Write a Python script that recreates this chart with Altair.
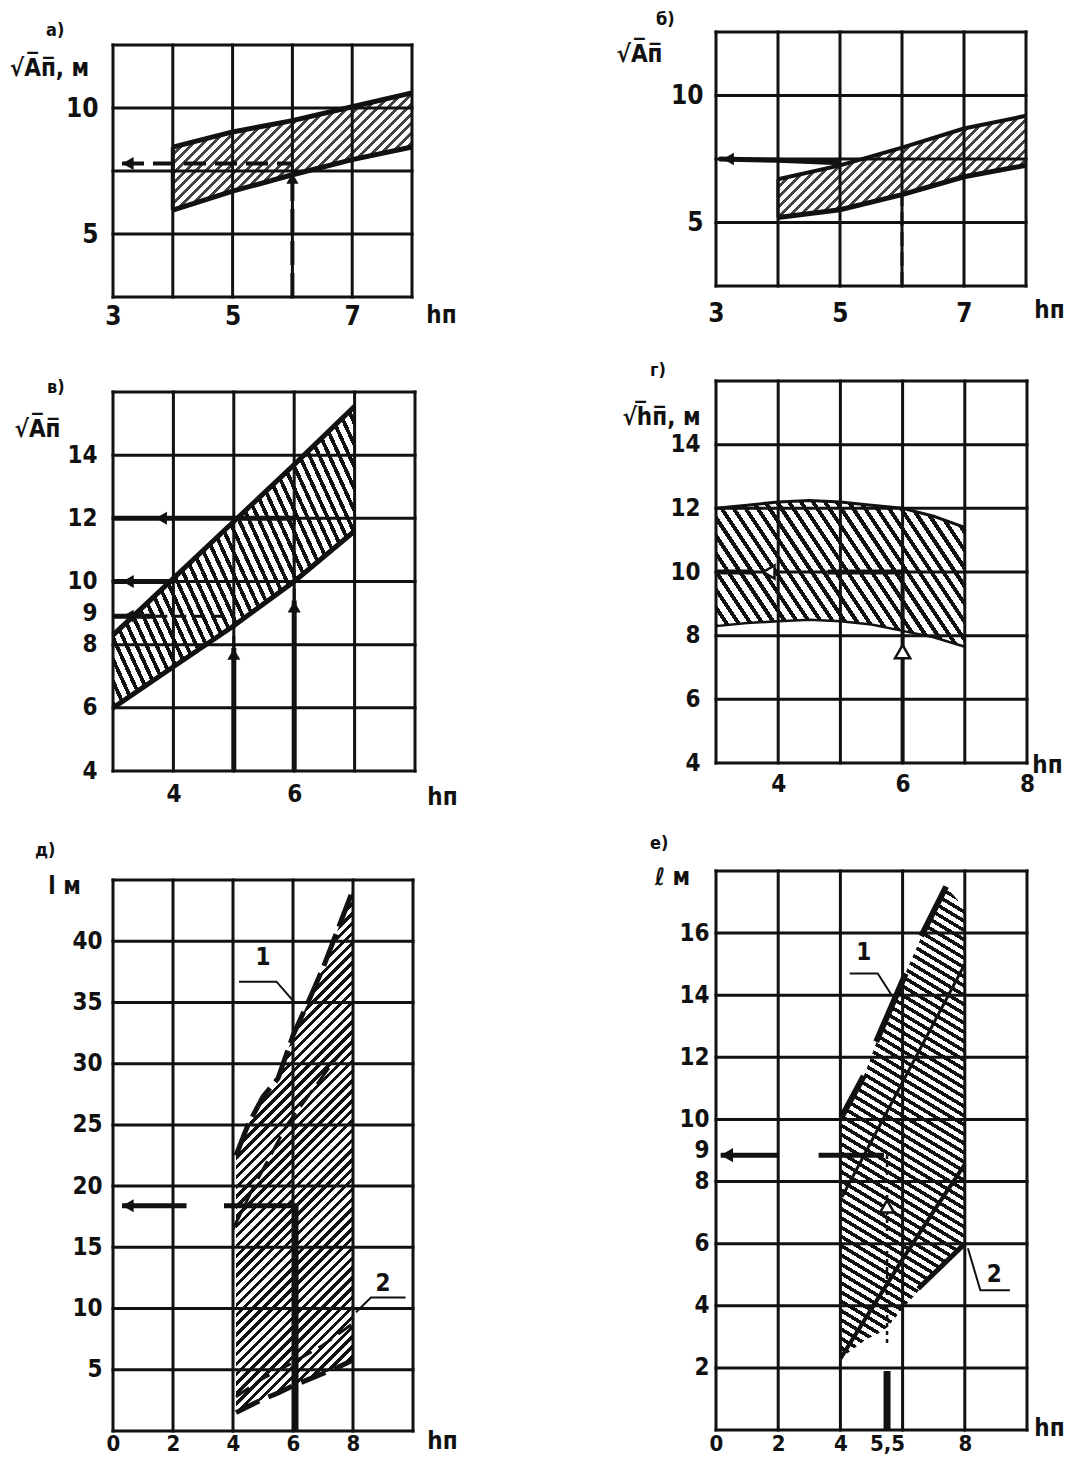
import math
import altair as alt
import pandas as pd

INK = "#111111"
FONT = "Liberation Sans Narrow, DejaVu Sans Condensed, DejaVu Sans, sans-serif"

# ---------------- panel а) ----------------
a_x = [4, 5, 6, 7, 8]
a_lo = [5.95, 6.7, 7.35, 7.95, 8.45]
a_hi = [8.45, 9.05, 9.5, 10.05, 10.6]
a_gx = [3, 4, 5, 6, 7, 8]
a_gy = [2.5, 5, 7.5, 10, 12.5]
a_xticks = [3, 5, 7]
a_yticks = [5, 10]
a_harrow_x = [3.15, 6.0]
a_harrow_y = [7.8, 7.8]
a_varrow_x = [6, 6]
a_varrow_y = [2.5, 7.2]

# ---------------- panel б) ----------------
b_x = [4, 5, 6, 7, 8]
b_lo = [5.2, 5.5, 6.1, 6.8, 7.25]
b_hi = [6.7, 7.25, 7.95, 8.7, 9.2]
b_gx = [3, 4, 5, 6, 7, 8]
b_gy = [2.5, 5, 7.5, 10, 12.5]
b_xticks = [3, 5, 7]
b_yticks = [5, 10]
b_harrow_x = [3.05, 4, 5]
b_harrow_y = [7.5, 7.45, 7.35]
b_varrow_x = [6, 6]
b_varrow_y = [2.5, 6.1]

# ---------------- panel в) ----------------
c_x = [3, 4, 5, 6, 7]
c_lo = [6.0, 7.3, 8.6, 10.0, 11.6]
c_hi = [8.3, 10.1, 11.9, 13.7, 15.55]
c_gx = [3, 4, 5, 6, 7, 8]
c_gy = [4, 6, 8, 10, 12, 14, 16]
c_xticks = [4, 6]
c_yticks = [4, 6, 8, 9, 10, 12, 14]

# ---------------- panel г) ----------------
d_x = [3, 3.5, 4, 4.5, 5, 5.5, 6, 6.5, 7]
d_hi = [12.0, 12.1, 12.2, 12.25, 12.2, 12.1, 12.0, 11.75, 11.4]
d_lo = [8.3, 8.4, 8.45, 8.5, 8.45, 8.35, 8.15, 7.95, 7.65]
d_gx = [3, 4, 5, 6, 7, 8]
d_gy = [4, 6, 8, 10, 12, 14, 16]
d_xticks = [4, 6, 8]
d_yticks = [4, 6, 8, 10, 12, 14]

# ---------------- panel д) ----------------
e_x = [4.1, 4.5, 5, 5.5, 6, 6.5, 7, 7.5, 8]
e_hi = [22.5, 25.0, 27.3, 28.8, 32.3, 35.0, 37.8, 41.0, 44.2]
e_lo = [1.5, 2.0, 2.6, 3.1, 3.7, 4.2, 4.7, 5.2, 5.8]
e_mid_x = [4.0, 4.7, 5.8, 7.3, 8.0]
e_mid_y = [16.5, 20, 25, 30, 32]
e_l2_x = [4.1, 5.0, 6.0, 7.0, 8.0]
e_l2_y = [2.8, 4.3, 5.6, 7.0, 8.8]
e_gx = [0, 2, 4, 6, 8, 10]
e_gy = [0, 5, 10, 15, 20, 25, 30, 35, 40, 45]
e_xticks = [0, 2, 4, 6, 8]
e_yticks = [5, 10, 15, 20, 25, 30, 35, 40]
e_call_x = [5.0, 9.0]
e_call_y = [38.6, 12.0]
e_call_t = ["1", "2"]
e_lead1_x = [4.2, 5.45, 6.05]
e_lead1_y = [36.7, 36.7, 35.0]
e_lead2_x = [9.75, 8.6, 8.1]
e_lead2_y = [10.9, 10.9, 9.7]

# ---------------- panel е) ----------------
f_x = [4.0, 4.8, 5.2, 5.5, 6.0, 6.7, 7.4, 8.0]
f_hi = [10.0, 11.5, 12.6, 13.2, 14.5, 16.1, 17.5, 16.8]
f_lo = [2.3, 2.9, 3.1, 3.3, 3.9, 4.7, 5.4, 6.0]
f_mid_x = [4.05, 8.0]
f_mid_y = [7.5, 15.0]
f_low_x = [4.0, 5.0, 6.0, 7.0, 8.0]
f_low_y = [2.3, 3.9, 5.5, 7.05, 8.55]
f_l2_x = [6.5, 8.0]
f_l2_y = [4.55, 6.0]
f_gx = [0, 2, 4, 6, 8, 10]
f_gy = [0, 2, 4, 6, 8, 10, 12, 14, 16, 18]
f_xticks = [0, 2, 4, 5.5, 8]
f_yticks = [2, 4, 6, 8, 9, 10, 12, 14, 16]
f_call_x = [4.75, 8.95]
f_call_y = [15.35, 5.0]
f_call_t = ["1", "2"]
f_lead1_x = [4.3, 5.2, 5.65]
f_lead1_y = [14.7, 14.7, 14.0]
f_lead2_x = [9.45, 8.5, 8.1]
f_lead2_y = [4.5, 4.5, 5.85]


def hatch(W, H, nx, ny, period, frac, dark, light="#ffffff"):
    L = math.hypot(nx, ny)
    nx, ny = nx / L, ny / L
    S = nx * nx * W * W + ny * ny * H * H
    E = abs(nx) * W + abs(ny) * H
    a = E / S
    x1 = 0.0 if nx >= 0 else 1.0
    y1 = 0.0 if ny >= 0 else 1.0
    x2 = x1 + a * nx * W
    y2 = y1 + a * ny * H
    n = max(1, int(round(E / period)))
    stops = []
    for i in range(n):
        o0, o1, o2 = i / n, (i + frac) / n, min((i + 1) / n, 1.0)
        stops += [alt.GradientStop(offset=o0, color=dark),
                  alt.GradientStop(offset=o1, color=dark),
                  alt.GradientStop(offset=o1, color=light),
                  alt.GradientStop(offset=o2, color=light)]
    return alt.LinearGradient(gradient="linear", stops=stops,
                              x1=x1, y1=y1, x2=x2, y2=y2)


def seg_frame(segs):
    rows = []
    for k, (xs, ys) in enumerate(segs):
        for i, (xv, yv) in enumerate(zip(xs, ys)):
            rows.append({"x": xv, "y": yv, "seg": k, "o": i})
    return pd.DataFrame(rows)


def build(p):
    xd, yd, W, H = p["xdom"], p["ydom"], p["W"], p["H"]
    sx = alt.Scale(domain=xd, nice=False, zero=False)
    sy = alt.Scale(domain=yd, nice=False, zero=False)
    common = dict(grid=False, domain=False, ticks=False, labelFlush=False,
                  labelOverlap=False, labelBound=False, format="d",
                  labelFont=FONT, labelFontWeight="bold",
                  labelColor=INK, titleAngle=0, titleAlign="center",
                  titleBaseline="middle", titleFont=FONT, titleFontWeight="bold",
                  titleColor=INK)
    ax_kw = dict(common, values=p["xticks"], labelPadding=p["xpad"],
                 labelFontSize=p.get("xlsize", p["lsize"]), title="hп",
                 titleX=p["xt"][0], titleY=p["xt"][1], titleFontSize=24)
    if p.get("xexpr"):
        ax_kw["labelExpr"] = p["xexpr"]
    ax = alt.Axis(**ax_kw)
    ay = alt.Axis(**dict(common, values=p["yticks"], labelPadding=p["ypad"],
                         labelFontSize=p["lsize"],
                         title=p["ytitle"], titleX=p["yt"][0], titleY=p["yt"][1],
                         titleFontSize=24))
    X = alt.X("x:Q", scale=sx, axis=ax)
    Y = alt.Y("y:Q", scale=sy, axis=ay)

    layers = []
    bx, blo, bhi = p["band"]
    bw = (max(bx) - min(bx)) * W / (xd[1] - xd[0])
    bh = (max(bhi) - min(blo)) * H / (yd[1] - yd[0])
    grad = hatch(bw, bh, *p["hatch"])
    band_df = pd.DataFrame({"x": bx, "y": blo, "y2": bhi})
    layers.append(alt.Chart(band_df).mark_area(fill=grad, strokeWidth=0)
                  .encode(x=X, y=Y, y2="y2:Q"))

    fx, fy = p["fx"], p["fy"]
    vg = pd.DataFrame({"x": p["gx"], "y": [fy[0]] * len(p["gx"]),
                       "y2": [fy[1]] * len(p["gx"])})
    hg = pd.DataFrame({"y": p["gy"], "x": [fx[0]] * len(p["gy"]),
                       "x2": [fx[1]] * len(p["gy"])})
    layers.append(alt.Chart(vg).mark_rule(color=INK, strokeWidth=3, strokeCap="square")
                  .encode(x=X, y=Y, y2="y2:Q"))
    layers.append(alt.Chart(hg).mark_rule(color=INK, strokeWidth=3, strokeCap="square")
                  .encode(x=X, x2="x2:Q", y=Y))

    for segs, w, dash in p["lines"]:
        kw = dict(color=INK, strokeWidth=w, strokeCap="butt")
        if dash:
            kw["strokeDash"] = dash
        layers.append(alt.Chart(seg_frame(segs)).mark_line(**kw)
                      .encode(x=X, y=Y, detail="seg:N", order="o:Q"))

    for xs, ys, shape, size, hollow in p["heads"]:
        df = pd.DataFrame({"x": xs, "y": ys})
        if hollow:
            mk = alt.Chart(df).mark_point(shape=shape, size=size, filled=True,
                                          fill="white", stroke=INK,
                                          strokeWidth=2.5, opacity=1)
        else:
            mk = alt.Chart(df).mark_point(shape=shape, size=size, filled=True,
                                          color=INK, opacity=1)
        layers.append(mk.encode(x=X, y=Y))

    for xs, ys, ts, size in p["texts"]:
        df = pd.DataFrame({"x": xs, "y": ys, "t": ts})
        layers.append(alt.Chart(df).mark_text(font=FONT, fontSize=size,
                                              fontWeight="bold", color=INK)
                      .encode(x=X, y=Y, text="t:N"))

    title = alt.TitleParams(text=p["letter"], anchor="start", frame="group",
                            orient="top", dx=p["lt"][0], offset=p["lt"][1],
                            baseline="alphabetic", align="left", font=FONT,
                            fontSize=18, fontWeight="bold", color=INK)
    return alt.layer(*layers).properties(width=W, height=H, title=title)


# Each row shares one view height; frames sit inside the views.
PA = dict(xdom=[3, 8], ydom=[2.5, 13.016], W=299, H=265,
          gx=a_gx, gy=a_gy, fx=[3, 8], fy=[2.5, 12.5],
          xticks=a_xticks, yticks=a_yticks, lsize=26, xpad=6, ypad=15,
          xt=(328, 18), yt=(-64, 36), ytitle="√A̅п̅, м",
          letter="а)", lt=(-67, -22),
          band=(a_x, a_lo, a_hi), hatch=(1, 1, 7, 0.4, "#444444"),
          lines=[([(a_x, a_hi)], 5, None), ([(a_x, a_lo)], 5, None),
                 ([([4, 4], [a_lo[0], a_hi[0]])], 4, None),
                 ([(a_harrow_x, a_harrow_y)], 4, [22, 9]),
                 ([(a_varrow_x, a_varrow_y)], 4, [24, 8])],
          heads=[([3.25], [7.8], "triangle-left", 170, False),
                 ([6], [7.2], "triangle-up", 150, False)],
          texts=[])

PB = dict(xdom=[3, 8], ydom=[2.067, 12.5], W=310, H=265,
          gx=b_gx, gy=b_gy, fx=[3, 8], fy=[2.5, 12.5],
          xticks=b_xticks, yticks=b_yticks, lsize=26, xpad=3, ypad=13,
          xt=(333, 13), yt=(-77, 22), ytitle="√A̅п̅",
          letter="б)", lt=(-60, -13),
          band=(b_x, b_lo, b_hi), hatch=(1, 1, 7, 0.4, "#444444"),
          lines=[([(b_x, b_hi)], 4, None), ([(b_x, b_lo)], 5, None),
                 ([([4, 4], [b_lo[0], b_hi[0]])], 3, None),
                 ([(b_harrow_x, b_harrow_y)], 5, None),
                 ([(b_varrow_x, b_varrow_y)], 3, [14, 6])],
          heads=[([3.2], [7.5], "triangle-left", 160, False)],
          texts=[])

PC = dict(xdom=[3, 8], ydom=[4, 16.348], W=302, H=390,
          gx=c_gx, gy=c_gy, fx=[3, 8], fy=[4, 16],
          xticks=c_xticks, yticks=c_yticks, lsize=24, xpad=11, ypad=16,
          xt=(329, 26), yt=(-76, 48), ytitle="√A̅п̅",
          letter="в)", lt=(-66, -30),
          band=(c_x, c_lo, c_hi), hatch=(2.2, -1, 9, 0.42, INK),
          lines=[([(c_x, c_hi)], 5, None), ([(c_x, c_lo)], 5, None),
                 ([([3, 6], [12, 12]), ([3, 4], [10, 10]), ([3, 3.7], [8.9, 8.9]),
                   ([5, 5], [4, 7.9]), ([6, 6], [4, 9.4])], 5, None),
                 ([([4, 6], [10, 10]), ([3.7, 5], [8.9, 8.9]),
                   ([5, 5], [7.9, 8.9]), ([6, 6], [9.4, 12])], 3, [12, 7])],
          heads=[([3.8, 3.25, 3.25], [12, 10, 8.9], "triangle-left", 170, False),
                 ([5, 6], [7.7, 9.2], "triangle-up", 170, False)],
          texts=[])

PD = dict(xdom=[3, 8], ydom=[3.749, 16], W=311, H=390,
          gx=d_gx, gy=d_gy, fx=[3, 8], fy=[4, 16],
          xticks=d_xticks, yticks=d_yticks, lsize=24, xpad=1, ypad=16,
          xt=(331, -6), yt=(-55, 36), ytitle="√h̅п̅, м",
          letter="г)", lt=(-66, -15),
          band=(d_x, d_lo, d_hi), hatch=(1.5, -1, 10, 0.4, INK),
          lines=[([(d_x, d_hi)], 3, None), ([(d_x, d_lo)], 2.5, None),
                 ([([3, 3.6], [10, 10]), ([4.8, 6], [10, 10])], 5, None),
                 ([([6, 6], [4, 10])], 4, None)],
          heads=[([3.85], [10], "triangle-left", 170, True),
                 ([6], [7.5], "triangle-up", 230, True)],
          texts=[])

PE = dict(xdom=[0, 10], ydom=[0, 47.042], W=300, H=576,
          gx=e_gx, gy=e_gy, fx=[0, 10], fy=[0, 45],
          xticks=e_xticks, yticks=e_yticks, lsize=24, xlsize=22, xpad=2, ypad=11,
          xt=(329, 10), yt=(-49, 31), ytitle="l м",
          letter="д)", lt=(-78, -19),
          band=(e_x, e_lo, e_hi), hatch=(1, 1, 7, 0.45, INK),
          lines=[([(e_x, e_hi)], 5, [34, 8]), ([(e_mid_x, e_mid_y)], 3, [20, 8]),
                 ([(e_x, e_lo)], 5, [26, 10]), ([(e_l2_x, e_l2_y)], 3, [16, 8]),
                 ([([0.3, 2.45], [18.4, 18.4]), ([3.7, 6.1], [18.4, 18.4]),
                   ([6.1, 6.1], [0, 18.4])], 5, None),
                 ([(e_lead1_x, e_lead1_y), (e_lead2_x, e_lead2_y)], 2, None)],
          heads=[([0.5], [18.4], "triangle-left", 170, False)],
          texts=[(e_call_x, e_call_y, e_call_t, 24)])

PF = dict(xdom=[0, 10], ydom=[-0.032, 18.515], W=311, H=576,
          gx=f_gx, gy=f_gy, fx=[0, 10], fy=[0, 18],
          xticks=f_xticks, yticks=f_yticks, lsize=24, xlsize=22, xpad=2, ypad=7,
          xt=(333, -3), yt=(-44, 22), ytitle="ℓ м",
          xexpr="datum.value == 5.5 ? '5,5' : datum.label",
          letter="е)", lt=(-66, -12),
          band=(f_x, f_lo, f_hi), hatch=(0.6, -1, 8, 0.45, INK),
          lines=[([([4.05, 4.75], [10.1, 11.4]), ([5.15, 6.1], [12.5, 14.7]),
                   ([6.6, 7.4], [15.9, 17.5])], 6, None),
                 ([(f_mid_x, f_mid_y)], 3, None),
                 ([(f_low_x, f_low_y)], 4, None),
                 ([(f_l2_x, f_l2_y)], 5, None),
                 ([([0.15, 2.0], [8.85, 8.85]), ([3.3, 5.4], [8.85, 8.85])], 5, None),
                 ([([5.5, 5.5], [0, 1.9])], 7, None),
                 ([([5.5, 5.5], [2.8, 8.85])], 2.5, [4, 4]),
                 ([(f_lead1_x, f_lead1_y), (f_lead2_x, f_lead2_y)], 2, None)],
          heads=[([0.35], [8.85], "triangle-left", 200, False),
                 ([5.5], [7.2], "triangle-up", 200, True)],
          texts=[(f_call_x, f_call_y, f_call_t, 24)])

chart = alt.concat(
    build(PA), build(PB), build(PC), build(PD), build(PE), build(PF),
    columns=2, spacing={"row": 84, "column": 301}, bounds="flush", align="none",
).properties(
    autosize=alt.AutoSizeParams(type="none"),
    padding={"left": 105, "top": 24, "right": 957, "bottom": 1424},
    background="white",
).configure_view(strokeWidth=0)

chart.save("out.html", embed_options={"renderer": "svg", "actions": False})
